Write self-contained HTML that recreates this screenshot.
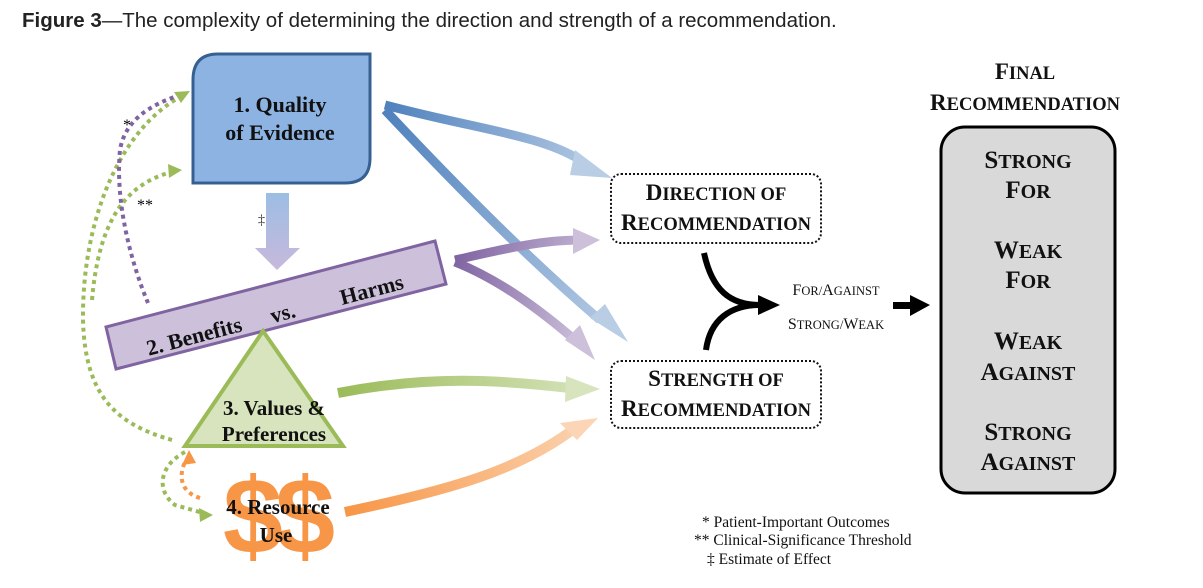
<!DOCTYPE html>
<html><head><meta charset="utf-8"><style>
html,body{margin:0;padding:0;background:#fff;}
svg{display:block}
.b{font-family:"Liberation Serif",serif;font-weight:bold;}
.s{font-family:"Liberation Serif",serif;font-weight:bold;}
</style></head><body>
<svg width="1203" height="588" viewBox="0 0 1203 588" xmlns="http://www.w3.org/2000/svg">
<defs>
<linearGradient id="gb1" x1="385" y1="105" x2="610" y2="170" gradientUnits="userSpaceOnUse"><stop offset="0" stop-color="#4f81bd"/><stop offset="1" stop-color="#b9cde5"/></linearGradient>
<linearGradient id="gb2" x1="385" y1="110" x2="625" y2="340" gradientUnits="userSpaceOnUse"><stop offset="0" stop-color="#4f81bd"/><stop offset="1" stop-color="#b9cde5"/></linearGradient>
<linearGradient id="gp" x1="455" y1="260" x2="595" y2="300" gradientUnits="userSpaceOnUse"><stop offset="0" stop-color="#8064a2"/><stop offset="1" stop-color="#ccc0da"/></linearGradient>
<linearGradient id="gg" x1="338" y1="0" x2="595" y2="0" gradientUnits="userSpaceOnUse"><stop offset="0" stop-color="#9bbb59"/><stop offset="1" stop-color="#d7e4bd"/></linearGradient>
<linearGradient id="go" x1="345" y1="512" x2="595" y2="420" gradientUnits="userSpaceOnUse"><stop offset="0" stop-color="#f79646"/><stop offset="1" stop-color="#fbd5b5"/></linearGradient>
<linearGradient id="gd" x1="0" y1="193" x2="0" y2="270" gradientUnits="userSpaceOnUse"><stop offset="0" stop-color="#9dbde3"/><stop offset="1" stop-color="#c7b9dc"/></linearGradient>
</defs>

<text x="22" y="27" font-family="Liberation Sans,sans-serif" font-size="20.5" fill="#222" transform="scale(1 1)"><tspan font-weight="bold">Figure 3</tspan>—The complexity of determining the direction and strength of a recommendation.</text>

<!-- dotted connectors -->
<g fill="none" stroke-width="4" stroke-dasharray="4 4">
<path d="M172,440 C120,425 85,400 83,320 C82,220 120,130 180,97" stroke="#9bbb59"/>
<path d="M92,300 C98,230 120,185 172,172" stroke="#9bbb59"/>
<path d="M148,303 C130,260 115,200 120,150 C125,120 150,105 180,95" stroke="#8064a2"/>
<path d="M185,452 C160,465 155,490 175,505 L203,513" stroke="#9bbb59"/>
<path d="M200,498 C180,492 178,475 186,460" stroke="#f79646"/>
</g>
<polygon points="190,91 174,92 181,103" fill="#9bbb59"/>
<polygon points="182,170 168,164 169,178" fill="#9bbb59"/>
<polygon points="213,515 199,508 200,522" fill="#9bbb59"/>
<polygon points="189,450 182,465 196,463" fill="#f79646"/>
<text x="123" y="130" font-family="Liberation Serif,serif" font-size="16">*</text>
<text x="137" y="210" font-family="Liberation Serif,serif" font-size="16">**</text>

<!-- colored arrows -->
<g fill="none">
<path d="M385,105 C480,130 540,135 580,160" stroke="url(#gb1)" stroke-width="9"/>
<path d="M385,110 C460,190 530,260 600,320" stroke="url(#gb2)" stroke-width="9"/>
<path d="M455,260 C500,250 540,240 580,240" stroke="url(#gp)" stroke-width="9"/>
<path d="M455,262 C500,280 540,310 575,340" stroke="url(#gp)" stroke-width="9"/>
<path d="M338,393 C430,375 500,380 570,388" stroke="url(#gg)" stroke-width="10"/>
<path d="M345,512 C450,490 520,470 575,428" stroke="url(#go)" stroke-width="10"/>
</g>
<polygon points="612,178 575,150 570,175" fill="#b9cde5"/>
<polygon points="628,342 590,318 605,304" fill="#b9cde5"/>
<polygon points="600,240 573,228 573,254" fill="#ccc0da"/>
<polygon points="595,360 565,340 580,325" fill="#ccc0da"/>
<polygon points="600,389 566,376 565,402" fill="#d7e4bd"/>
<polygon points="598,418 560,423 577,440" fill="#fbd5b5"/>

<!-- Quality -->
<path d="M218,54 L370,54 L370,158 Q370,183 345,183 L193,183 L193,80 Q193,54 218,54 Z" fill="#8db3e2" stroke="#376092" stroke-width="3"/>
<text x="280" y="112" text-anchor="middle" class="b" font-size="22" fill="#111">1. Quality</text>
<text x="280" y="140" text-anchor="middle" class="b" font-size="22" fill="#111">of Evidence</text>

<!-- down arrow -->
<polygon points="266,193 289,193 289,248 300,248 277,270 255,248 266,248" fill="url(#gd)"/>
<text x="258" y="224" font-family="Liberation Serif,serif" font-size="14" fill="#333">‡</text>

<!-- Benefits bar -->
<polygon points="106,327 435,241 446,284 116,369" fill="#ccc0da" stroke="#8064a2" stroke-width="3"/>
<g transform="rotate(-14.7 275 305)">
<text x="140" y="322" class="b" font-size="22" fill="#111">2. Benefits</text>
<text x="268" y="322" class="b" font-size="22" fill="#111">vs.</text>
<text x="340" y="322" class="b" font-size="22" fill="#111">Harms</text>
</g>

<!-- Triangle -->
<polygon points="263,331 185,446 343,446" fill="#d7e4bd" stroke="#9bbb59" stroke-width="4"/>
<text x="274" y="415" text-anchor="middle" class="b" font-size="21" fill="#111">3. Values &amp;</text>
<text x="274" y="441" text-anchor="middle" class="b" font-size="21" fill="#111">Preferences</text>

<!-- Resource -->
<text x="275" y="553" text-anchor="middle" font-family="Liberation Sans,sans-serif" font-weight="bold" font-size="108" fill="#f79646" letter-spacing="-8">$$</text>
<text x="278" y="514" text-anchor="middle" class="b" font-size="21" fill="#111">4. Resource</text>
<text x="276" y="542" text-anchor="middle" class="b" font-size="21" fill="#111">Use</text>

<!-- Direction / Strength -->
<rect x="611" y="174" width="210" height="69" rx="10" fill="#fff" stroke="#111" stroke-width="2" stroke-dasharray="2 2"/>
<g class="s" text-anchor="middle" fill="#111">
<text x="716" y="200" font-size="18.5"><tspan font-size="23">D</tspan>IRECTION OF</text>
<text x="716" y="230" font-size="18.5"><tspan font-size="23">R</tspan>ECOMMENDATION</text>
</g>
<rect x="611" y="361" width="210" height="67" rx="10" fill="#fff" stroke="#111" stroke-width="2" stroke-dasharray="2 2"/>
<g class="s" text-anchor="middle" fill="#111">
<text x="716" y="386" font-size="18.5"><tspan font-size="23">S</tspan>TRENGTH OF</text>
<text x="716" y="416" font-size="18.5"><tspan font-size="23">R</tspan>ECOMMENDATION</text>
</g>

<!-- merge arrow -->
<path d="M704,253 C712,290 730,305 760,305" fill="none" stroke="#000" stroke-width="6"/>
<path d="M706,350 C710,320 730,305 760,305" fill="none" stroke="#000" stroke-width="6"/>
<polygon points="758,295 780,305 758,315" fill="#000"/>
<g font-family="Liberation Serif,serif" text-anchor="middle" fill="#111">
<text x="836" y="295" font-size="12.5"><tspan font-size="16">F</tspan>OR/<tspan font-size="16">A</tspan>GAINST</text>
<text x="836" y="329" font-size="12.5"><tspan font-size="16">S</tspan>TRONG/<tspan font-size="16">W</tspan>EAK</text>
</g>
<rect x="893" y="302" width="18" height="7" fill="#000"/>
<polygon points="910,295 930,305 910,316" fill="#000"/>

<!-- Final -->
<g class="s" text-anchor="middle" fill="#111">
<text x="1025" y="79" font-size="18.5"><tspan font-size="23">F</tspan>INAL</text>
<text x="1025" y="110" font-size="18.5"><tspan font-size="23">R</tspan>ECOMMENDATION</text>
</g>
<rect x="941" y="127" width="174" height="366" rx="24" fill="#d9d9d9" stroke="#000" stroke-width="3"/>
<g class="s" font-size="20" text-anchor="middle" fill="#111">
<text x="1028" y="168"><tspan font-size="25">S</tspan>TRONG</text><text x="1028" y="198"><tspan font-size="25">F</tspan>OR</text>
<text x="1028" y="258"><tspan font-size="25">W</tspan>EAK</text><text x="1028" y="288"><tspan font-size="25">F</tspan>OR</text>
<text x="1028" y="349"><tspan font-size="25">W</tspan>EAK</text><text x="1028" y="380"><tspan font-size="25">A</tspan>GAINST</text>
<text x="1028" y="440"><tspan font-size="25">S</tspan>TRONG</text><text x="1028" y="470"><tspan font-size="25">A</tspan>GAINST</text>
</g>

<!-- footnotes -->
<g font-family="Liberation Serif,serif" font-size="15.5" fill="#111">
<text x="702" y="527">* Patient-Important Outcomes</text>
<text x="694" y="545">** Clinical-Significance Threshold</text>
<text x="707" y="564">‡  Estimate of Effect</text>
</g>
</svg>
</body></html>
